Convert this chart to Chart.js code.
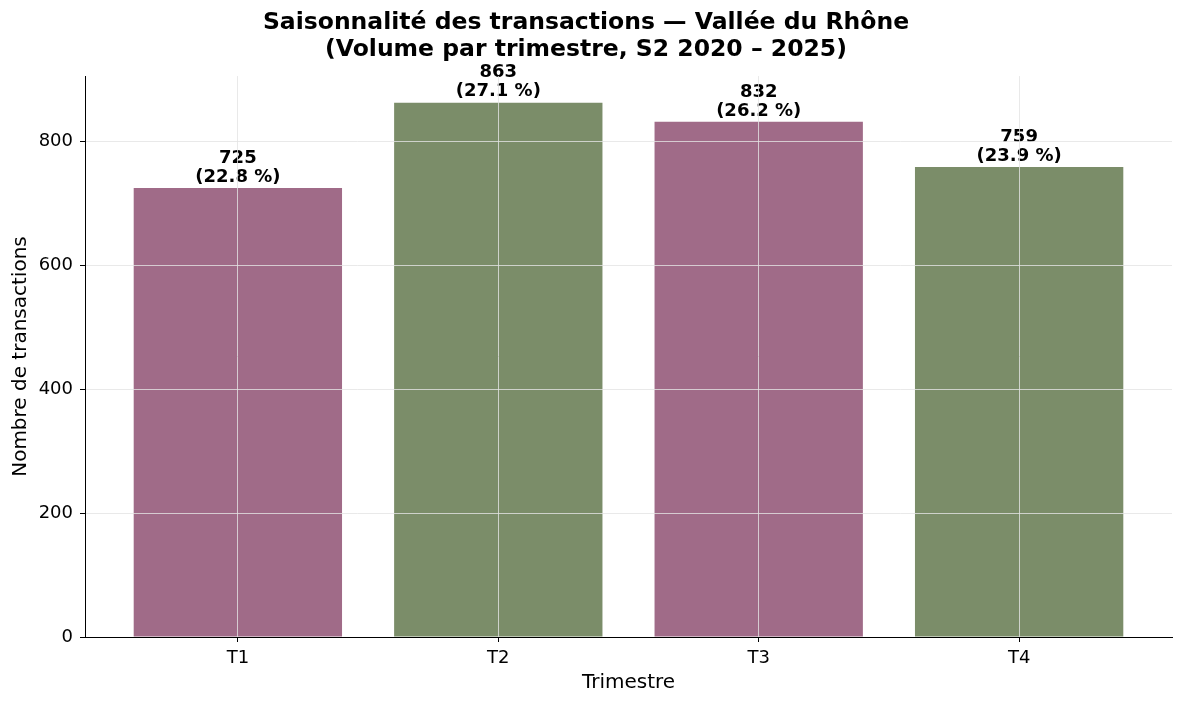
<!DOCTYPE html>
<html>
<head>
<meta charset="utf-8">
<script src="https://cdn.jsdelivr.net/npm/chart.js@4"></script>
<style>
html,body{margin:0;padding:0;background:#fff;}
#wrap{width:1184px;height:704px;position:relative;}
</style>
</head>
<body>
<div id="wrap"><canvas id="c" width="1184" height="704"></canvas></div>
<script>
const categories = ["T1", "T2", "T3", "T4"];
const volumes = [725, 863, 832, 759];
const shareLabels = ["(22.8 %)", "(27.1 %)", "(26.2 %)", "(23.9 %)"];
const barColors = ["#a06b88", "#7b8d69", "#a06b88", "#7b8d69"];
const yTicks = [0, 200, 400, 600, 800];
const yMax = 906;

const FONT = "'DejaVu Sans', sans-serif";
const gridColor = "rgba(228,228,228,0.8)";

const labelPlugin = {
  id: 'barLabels',
  afterDatasetsDraw(chart) {
    const ctx = chart.ctx;
    const meta = chart.getDatasetMeta(0);
    ctx.save();
    ctx.fillStyle = '#000';
    ctx.font = "bold 18px " + FONT;
    ctx.textAlign = 'center';
    ctx.textBaseline = 'middle';
    meta.data.forEach((bar, i) => {
      ctx.fillText(shareLabels[i], bar.x, bar.y - 11);
      ctx.fillText(String(volumes[i]), bar.x, bar.y - 30);
    });
    ctx.restore();
  }
};

new Chart(document.getElementById('c'), {
  type: 'bar',
  data: {
    datasets: [{
      data: volumes.map((v, i) => ({x: i, y: v})),
      backgroundColor: barColors,
      borderWidth: 0,
      inflateAmount: 0,
      categoryPercentage: 0.8,
      barPercentage: 1.0
    }]
  },
  options: {
    responsive: false,
    animation: false,
    devicePixelRatio: 1,
    layout: {padding: {top: 9, right: 12, left: 0, bottom: 0}},
    plugins: {
      legend: {display: false},
      tooltip: {enabled: false},
      title: {
        display: true,
        text: ["Saisonnalité des transactions — Vallée du Rhône", "(Volume par trimestre, S2 2020 – 2025)"],
        color: '#000',
        font: {family: FONT, size: 23.5, weight: 'bold', lineHeight: 1.15},
        padding: {top: 0, bottom: 13}
      }
    },
    scales: {
      x: {
        type: 'linear',
        min: -0.587,
        max: 3.587,
        offset: false,
        z: 1,
        afterFit(scale) { scale.height = 67; },
        afterBuildTicks(axis) { axis.ticks = categories.map((_, i) => ({value: i})); },
        ticks: {
          color: '#000',
          font: {family: FONT, size: 18},
          padding: 6,
          autoSkip: false,
          maxRotation: 0,
          callback: (v) => categories[v] ?? ''
        },
        grid: {color: gridColor, lineWidth: 1, offset: false, z: 1, drawTicks: true, tickLength: 5, tickColor: '#000'},
        border: {display: true, color: '#000', width: 1, z: 2},
        title: {
          display: true,
          text: 'Trimestre',
          color: '#000',
          font: {family: FONT, size: 20},
          padding: {top: 0, bottom: 9}
        }
      },
      y: {
        min: 0,
        max: yMax,
        z: 1,
        afterFit(scale) { scale.width = 85; },
        afterBuildTicks(axis) { axis.ticks = yTicks.map(v => ({value: v})); },
        ticks: {
          color: '#000',
          font: {family: FONT, size: 18},
          padding: 7
        },
        grid: {color: gridColor, lineWidth: 1, z: 1, drawTicks: true, tickLength: 5, tickColor: '#000'},
        border: {display: true, color: '#000', width: 1, z: 2},
        title: {
          display: true,
          text: 'Nombre de transactions',
          color: '#000',
          font: {family: FONT, size: 20},
          padding: {top: 9, bottom: 9}
        }
      }
    }
  },
  plugins: [labelPlugin]
});
</script>
</body>
</html>
